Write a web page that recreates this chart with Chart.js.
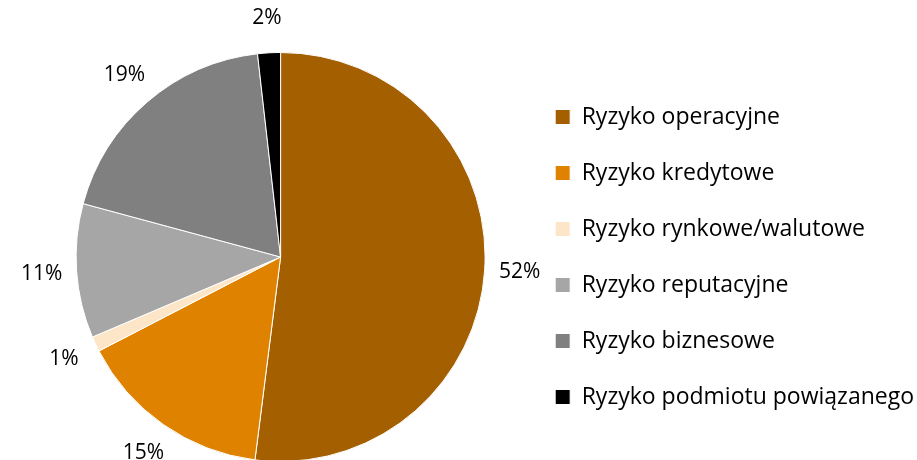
<!DOCTYPE html>
<html lang="pl">
<head>
    <meta charset="UTF-8">
    <title>Ryzyka</title>
    <script src="https://cdn.jsdelivr.net/npm/chart.js"></script>
    <style>
        html, body {
            margin: 0;
            padding: 0;
            background: #fff;
            overflow: hidden;
        }
        .chart-box {
            width: 917px;
            height: 480px;
        }
    </style>
</head>
<body>
    <div class="chart-box">
        <canvas id="riskChart"></canvas>
    </div>

    <script>
        // Udział poszczególnych ryzyk (w %)
        const categories = ['Ryzyko operacyjne', 'Ryzyko kredytowe', 'Ryzyko rynkowe/walutowe',
            'Ryzyko reputacyjne', 'Ryzyko biznesowe', 'Ryzyko podmiotu powiązanego'];
        const shares = [52.0, 15.4, 1.2, 10.6, 19.0, 1.8];
        const sliceColors = ['#A35F00', '#DF8200', '#FDE5C8', '#A6A6A6', '#808080', '#000000'];

        const fontFamily = '"Open Sans", sans-serif';

        // etykiety procentowe na zewnątrz wykresu
        const outsideLabels = {
            id: 'outsideLabels',
            afterDraw(chart) {
                const ctx = chart.ctx;
                const meta = chart.getDatasetMeta(0);
                const total = shares.reduce((a, b) => a + b, 0);
                ctx.save();
                ctx.font = '21px ' + fontFamily;
                ctx.fillStyle = '#000';
                ctx.textAlign = 'center';
                ctx.textBaseline = 'middle';
                meta.data.forEach((arc, i) => {
                    const p = arc.getProps(['x', 'y', 'startAngle', 'endAngle', 'outerRadius'], true);
                    const mid = (p.startAngle + p.endAngle) / 2;
                    const r = p.outerRadius + 35;
                    const txt = Math.round(shares[i] / total * 100) + '%';
                    ctx.fillText(txt, p.x + Math.cos(mid) * r, p.y + Math.sin(mid) * r);
                });
                ctx.restore();
            }
        };

        const ctx = document.getElementById('riskChart').getContext('2d');
        const riskChart = new Chart(ctx, {
            type: 'pie',
            data: {
                labels: categories,
                datasets: [{
                    data: shares,
                    backgroundColor: sliceColors,
                    borderColor: '#fff',
                    borderWidth: 1
                }]
            },
            options: {
                responsive: true,
                maintainAspectRatio: false,
                animation: false,
                layout: {
                    padding: { top: 52, bottom: 18, left: 39, right: -7 }
                },
                plugins: {
                    legend: {
                        position: 'right',
                        labels: {
                            color: '#000',
                            boxWidth: 15,
                            boxHeight: 15,
                            padding: 33,
                            font: { family: fontFamily, size: 23 }
                        }
                    },
                    tooltip: { enabled: false }
                }
            },
            plugins: [outsideLabels]
        });
    </script>
</body>
</html>
